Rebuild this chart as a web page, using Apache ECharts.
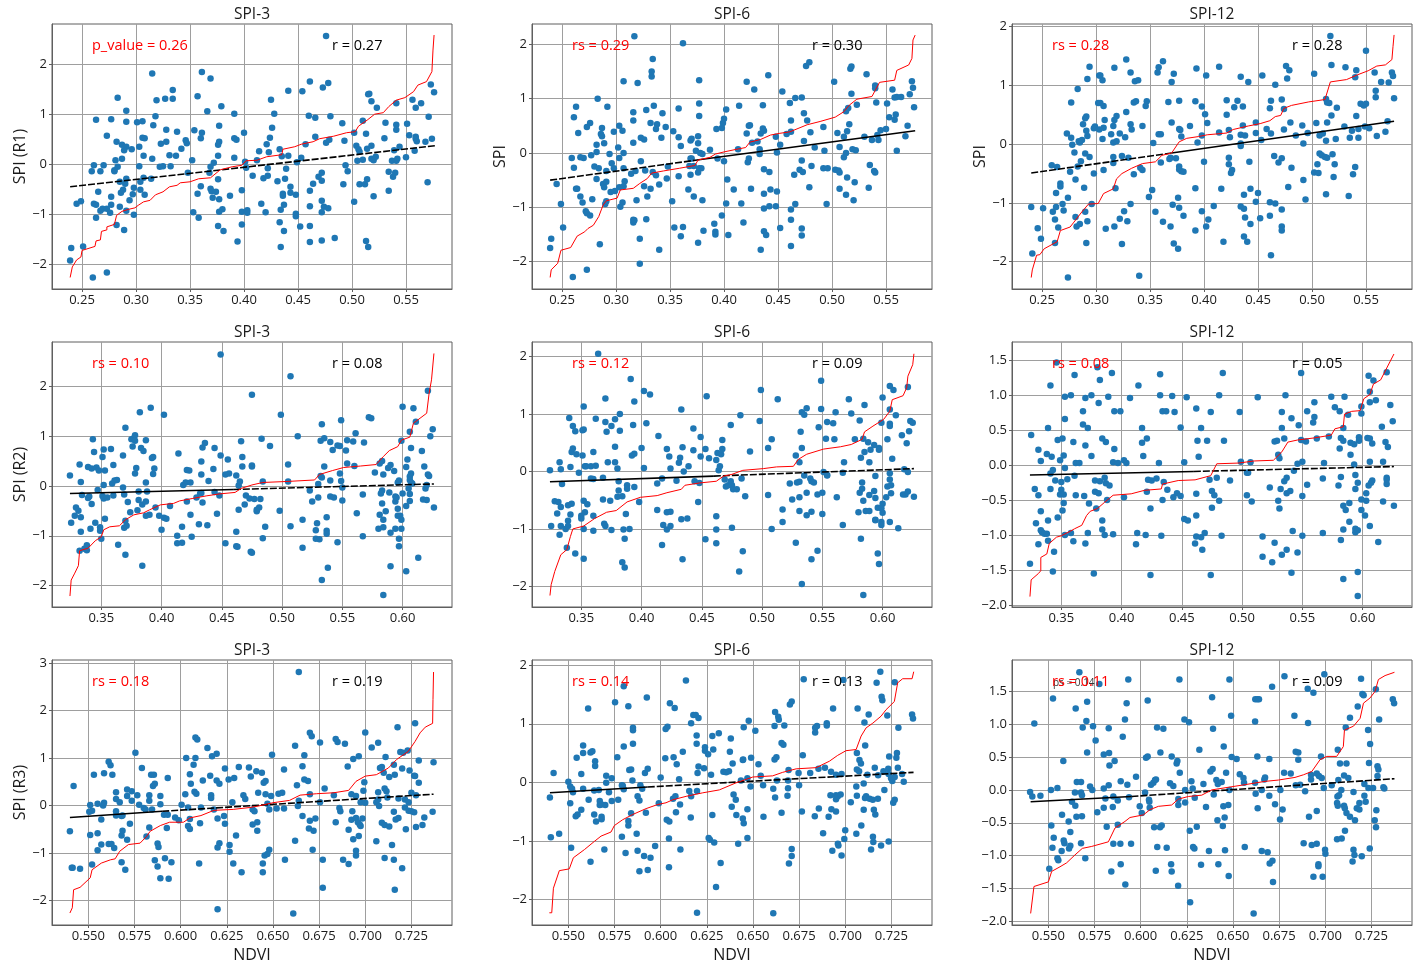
<!DOCTYPE html>
<html><head><meta charset="utf-8">
<script src="https://cdn.jsdelivr.net/npm/echarts@6/dist/echarts.min.js"></script>
<style>html,body{margin:0;padding:0;background:#fff}#c{width:1417px;height:965px}</style>
</head><body><div id="c"></div>
<script>
const titles=['SPI-3','SPI-6','SPI-12','SPI-3','SPI-6','SPI-12','SPI-3','SPI-6','SPI-12'];
const yNames=['SPI (R1)','SPI','SPI','SPI (R2)','','','SPI (R3)','',''];
const redNotes=['p_value = 0.26','rs = 0.29','rs = 0.28','rs = 0.10','rs = 0.12','rs = 0.08','rs = 0.18','rs = 0.14','rs = 0.11'];
const blackNotes=['r = 0.27','r = 0.30','r = 0.28','r = 0.08','r = 0.09','r = 0.05','r = 0.19','r = 0.13','r = 0.09'];
const xTicksR1=[.25,.30,.35,.40,.45,.50,.55];
const xTicksR2=[.35,.40,.45,.50,.55,.60];
const xTicksR3=[.55,.575,.6,.625,.65,.675,.7,.725];
const yTicksInt=[-2,-1,0,1,2];
const yTicksInt3=[-2,-1,0,1,2,3];
const yTicksHalf=[-2,-1.5,-1,-.5,0,.5,1,1.5];
const xExtents=[[.2222,.5926],[.3091,.6410],[.5303,.7470]];
const yExtents=[[-2.49,2.80],[-2.503,2.374],[-2.465,2.046],[-2.43,2.89],[-2.36,2.255],[-2.029,1.762],[-2.512,3.063],[-2.439,2.09],[-2.056,1.977]];

const pts1=[[.239,-1.92],[.24,-1.67],[.251,-1.64],[.245,-.79],[.249,-.74],[.259,-.14],[.261,-.02],[.267,-.14],[.27,-.02],[.263,.89],[.277,.9],[.273,.57],[.283,1.33],[.291,1.07],[.291,.85],[.282,.45],[.287,.39],[.291,.35],[.289,.28],[.296,.3],[.287,.11],[.281,.08],[.283,-.05],[.28,-.12],[.28,-.14],[.285,-.35],[.291,-.29],[.29,-.39],[.288,-.51],[.286,-.57],[.265,-.55],[.277,-.65],[.261,-.79],[.263,-.81],[.277,-.81],[.285,-.85],[.267,-.93],[.269,-.89],[.273,-.89],[.276,-.97],[.263,-1.07],[.282,-1.21],[.289,-1.31],[.26,-2.26],[.273,-2.16],[.291,-.93],[.298,-1.01],[.294,-.72],[.297,-.6],[.298,-.47],[.304,-.51],[.304,-.35],[.307,-.27],[.303,-.04],[.303,.35],[.301,.84],[.306,.86],[.306,.53],[.308,.52],[.307,.17],[.308,-.61],[.314,-.29],[.315,.11],[.316,.78],[.318,.96],[.315,1.81],[.319,1.28],[.327,1.31],[.334,1.31],[.334,1.48],[.328,.69],[.338,.65],[.328,.45],[.323,.41],[.322,-.05],[.325,-.04],[.332,-.04],[.331,.18],[.337,.17],[.342,.31],[.346,.48],[.347,.42],[.348,-.17],[.352,.08],[.354,.68],[.361,.63],[.36,.52],[.357,1.36],[.361,1.84],[.369,1.71],[.366,1.06],[.379,1.16],[.377,.77],[.377,.45],[.376,.39],[.376,.17],[.372,.03],[.369,-.05],[.368,-.17],[.376,-.3],[.36,-.44],[.357,-.59],[.353,-.96],[.358,-1.07],[.369,-.49],[.37,-.54],[.374,-.55],[.371,-.67],[.377,-.7],[.387,-.63],[.38,-.9],[.377,-.95],[.376,-1.23],[.381,-1.33],[.394,-1.54],[.398,-1.2],[.398,-.95],[.403,-.92],[.403,-.97],[.398,-.52],[.402,-.07],[.401,.05],[.4,.63],[.391,1.01],[.391,.52],[.393,.49],[.391,.13],[.408,-.23],[.412,.08],[.414,.26],[.416,-.79],[.42,-.96],[.418,-.28],[.422,-.23],[.422,-.08],[.423,.24],[.421,.4],[.424,.53],[.426,.73],[.428,1.01],[.425,1.29],[.441,1.47],[.454,1.46],[.461,1.65],[.473,1.53],[.478,1.62],[.476,2.56],[.46,.97],[.466,.93],[.48,.96],[.466,.55],[.457,.4],[.476,.43],[.479,.49],[.491,.82],[.493,.47],[.433,.3],[.435,.16],[.441,.17],[.453,.13],[.449,.04],[.439,-.09],[.438,-.29],[.431,-.34],[.443,-.45],[.436,-.59],[.436,-.63],[.443,-.57],[.448,-.61],[.437,-.81],[.434,-.91],[.448,-.99],[.448,-1.04],[.433,-1.16],[.437,-1.33],[.434,-1.65],[.452,-1.24],[.461,-1.23],[.461,-1.55],[.472,-1.52],[.484,-1.47],[.461,-.53],[.461,-.84],[.464,-.39],[.469,-.25],[.472,-.17],[.472,-.33],[.472,-.73],[.474,-.85],[.478,-.88],[.472,-.96],[.494,-.02],[.496,-.14],[.492,-.4],[.502,-.75],[.513,-1.53],[.515,-1.65],[.507,-.4],[.512,-.4],[.514,-.3],[.52,-.64],[.534,-.53],[.534,-.15],[.54,-.17],[.538,-.25],[.57,-.36],[.505,.07],[.51,.09],[.502,.63],[.504,.37],[.506,.3],[.507,.25],[.51,.87],[.513,.61],[.514,.31],[.518,.37],[.515,1.4],[.516,1.41],[.518,1.26],[.523,1.13],[.518,.11],[.52,.08],[.522,.15],[.531,.83],[.53,.52],[.541,.79],[.541,.69],[.541,1.22],[.539,.28],[.537,.07],[.541,.07],[.542,.11],[.544,.35],[.55,.14],[.551,.81],[.556,1.29],[.559,1.13],[.564,1.22],[.553,.58],[.559,.55],[.559,.51],[.56,.46],[.558,.27],[.568,.45],[.571,.95],[.573,1.59],[.576,1.44],[.574,.51]];
const red1=[[.239,-2.26],[.241,-2.05],[.245,-1.91],[.249,-1.85],[.25,-1.72],[.262,-1.64],[.263,-1.53],[.267,-1.51],[.268,-1.34],[.273,-1.31],[.273,-1.25],[.28,-1.2],[.282,-1.02],[.287,-.94],[.293,-.9],[.299,-.87],[.302,-.82],[.307,-.75],[.313,-.72],[.318,-.61],[.325,-.55],[.331,-.45],[.338,-.42],[.341,-.37],[.35,-.35],[.358,-.29],[.369,-.27],[.378,-.11],[.389,-.05],[.398,-.02],[.402,.07],[.412,.08],[.421,.15],[.435,.19],[.436,.3],[.447,.35],[.453,.4],[.464,.45],[.47,.51],[.483,.56],[.495,.63],[.503,.65],[.506,.76],[.514,.88],[.521,1],[.529,1.03],[.534,1.15],[.541,1.28],[.549,1.33],[.557,1.45],[.561,1.58],[.569,1.65],[.574,1.85],[.575,2.28],[.576,2.58]];
const dash1=[[.239,-.45],[.577,.37]];
const solid1=[];

const pts2=[[.239,-1.75],[.24,-1.58],[.251,-1.37],[.249,-.94],[.245,-.57],[.259,-.09],[.261,-.27],[.261,.66],[.263,.85],[.265,.37],[.263,-.66],[.264,-.66],[.267,-.08],[.27,-.09],[.267,-.8],[.269,-.91],[.272,-1.07],[.273,-1.11],[.276,-1.15],[.273,.48],[.276,.55],[.273,-2.15],[.26,-2.28],[.282,.15],[.283,1],[.287,.46],[.286,.35],[.287,.31],[.289,.18],[.282,.02],[.277,-.04],[.28,-.25],[.284,-.28],[.282,-.48],[.278,-.85],[.285,-1.68],[.288,-.57],[.289,-.63],[.291,-.53],[.291,-.33],[.292,.85],[.291,-.89],[.29,-.94],[.294,-.02],[.296,-.19],[.298,-.28],[.295,-.72],[.299,-.7],[.298,.39],[.303,.5],[.306,.41],[.302,.1],[.303,-.09],[.307,0],[.307,-.28],[.308,-.52],[.303,-.63],[.307,-.61],[.306,-.91],[.304,-.99],[.307,1.32],[.32,1.29],[.317,2.15],[.316,.75],[.316,.6],[.316,.19],[.314,-.38],[.318,-.33],[.319,-.87],[.316,-1.23],[.316,-1.28],[.317,-1.24],[.322,-1.58],[.322,-2.04],[.328,-1.22],[.323,-.15],[.323,.28],[.326,.25],[.328,.79],[.333,1.41],[.333,1.5],[.334,1.73],[.335,.87],[.332,.55],[.338,.53],[.337,.44],[.342,.28],[.343,.73],[.346,.48],[.353,.4],[.358,.82],[.362,2.02],[.358,.29],[.36,.13],[.348,-.25],[.347,-.47],[.34,-.58],[.337,-.41],[.334,-.35],[.327,-.32],[.326,-.61],[.332,-.66],[.329,-.8],[.34,-1.78],[.352,-.89],[.354,-1.37],[.36,-1.53],[.362,-1.36],[.358,-.43],[.367,-.67],[.369,-.4],[.369,.23],[.37,.26],[.376,.31],[.376,.18],[.377,.68],[.377,.91],[.377,1.34],[.374,.04],[.378,0],[.38,-.02],[.369,-.1],[.37,-.1],[.372,-.24],[.368,-.24],[.377,-.28],[.379,-.28],[.376,-.36],[.372,-.8],[.38,-.87],[.376,-1.65],[.381,-1.43],[.391,-1.3],[.392,-1.45],[.392,-1.5],[.404,-1.51],[.398,-1.15],[.402,-.93],[.403,-.49],[.4,-.15],[.387,.06],[.394,-.1],[.393,.44],[.398,.46],[.399,.55],[.4,.63],[.402,.8],[.414,.87],[.421,1.31],[.428,1.17],[.441,1.43],[.454,1.13],[.436,.88],[.461,.92],[.466,1.01],[.472,1.02],[.476,1.6],[.479,1.67],[.474,.73],[.477,.6],[.462,.6],[.458,.35],[.462,.39],[.48,.38],[.448,.3],[.474,.22],[.484,.1],[.437,.41],[.436,.45],[.434,.36],[.423,.5],[.424,.51],[.421,.36],[.426,.19],[.431,.21],[.413,.07],[.433,.07],[.433,-.02],[.452,.15],[.449,.01],[.423,-.1],[.422,-.17],[.437,-.3],[.442,-.35],[.409,-.67],[.425,-.66],[.443,-.67],[.437,-.75],[.449,-.71],[.416,-.93],[.442,-.98],[.448,-.98],[.437,-1.02],[.418,-1.28],[.437,-1.44],[.439,-1.51],[.434,-1.78],[.452,-1.38],[.462,-1.23],[.462,-1.04],[.466,-.94],[.462,-1.71],[.472,-1.39],[.472,-1.52],[.472,-.14],[.47,-.31],[.473,-.35],[.465,-.4],[.479,-.63],[.481,-.24],[.492,.48],[.493,.04],[.492,-.28],[.496,-.28],[.495,-.94],[.502,1.31],[.505,.37],[.507,.11],[.503,-.31],[.506,-.32],[.507,-.36],[.507,-.66],[.513,-.77],[.52,-.87],[.514,-.45],[.521,-.54],[.534,-.64],[.535,-.22],[.539,-.33],[.54,-.36],[.511,-.08],[.513,0],[.511,.3],[.514,.4],[.516,.53],[.513,.77],[.515,.83],[.518,1.09],[.517,1.55],[.518,1.59],[.523,.89],[.519,.07],[.522,.05],[.532,1.45],[.53,.3],[.537,.24],[.54,1.24],[.54,1.19],[.541,.93],[.545,.42],[.543,.24],[.542,.33],[.55,.44],[.551,.91],[.553,.66],[.556,1.17],[.558,1.02],[.56,1.03],[.564,1.03],[.558,.61],[.559,.71],[.56,.04],[.568,.31],[.57,.5],[.572,1.08],[.574,1.32],[.575,1.2],[.576,.84]];
const red2=[[.239,-2.29],[.24,-2.15],[.246,-2.03],[.249,-1.79],[.258,-1.74],[.264,-1.53],[.271,-1.45],[.274,-1.39],[.279,-1.33],[.284,-1.17],[.288,-.96],[.291,-.88],[.301,-.83],[.304,-.68],[.316,-.65],[.322,-.56],[.329,-.47],[.333,-.37],[.344,-.33],[.359,-.28],[.373,-.23],[.376,-.13],[.387,-.08],[.392,-.02],[.4,.02],[.412,.07],[.42,.1],[.424,.2],[.434,.25],[.443,.33],[.451,.36],[.461,.39],[.477,.52],[.489,.58],[.503,.66],[.511,.76],[.516,.88],[.523,.99],[.537,1.04],[.544,1.3],[.558,1.34],[.56,1.52],[.571,1.62],[.574,1.74],[.575,2.08],[.577,2.17]];
const dash2=[[.239,-.5],[.375,-.13]];
const solid2=[[.375,-.13],[.577,.41]];

const pts3=[[.24,-1.07],[.241,-1.86],[.246,-1.43],[.249,-1.61],[.251,-1.09],[.26,-1.15],[.262,-1.28],[.263,-1.07],[.265,-1.42],[.262,-1.68],[.263,-.83],[.267,-.72],[.267,-.67],[.259,-.36],[.264,-.39],[.269,-1.02],[.27,-1.13],[.274,-2.27],[.274,-.91],[.276,-.47],[.281,-.6],[.273,.18],[.277,.11],[.277,.71],[.278,-.01],[.28,-.14],[.283,.94],[.284,.05],[.285,.03],[.287,.07],[.283,-.38],[.286,-.29],[.288,.34],[.29,.44],[.291,.47],[.291,.23],[.292,.14],[.29,-.16],[.294,-.22],[.289,-.74],[.281,-1.24],[.282,-1.4],[.285,-1.36],[.29,-1.15],[.292,-1.31],[.291,-1.68],[.294,1.32],[.292,1.11],[.303,1.17],[.304,1.17],[.306,1.09],[.317,1.3],[.302,.7],[.304,.7],[.307,.65],[.308,.41],[.298,.27],[.299,.3],[.303,.25],[.307,.28],[.306,.09],[.298,-.5],[.307,-.44],[.296,-1.02],[.309,-1.44],[.317,-1.4],[.322,-1.27],[.324,-1.7],[.326,-1.14],[.329,-1.31],[.316,.31],[.317,.41],[.319,.48],[.314,.17],[.322,.18],[.316,.03],[.319,.05],[.327,.12],[.316,-.22],[.316,-.32],[.324,-.2],[.33,-.23],[.318,-.75],[.335,-.51],[.328,.55],[.328,1.44],[.332,1.22],[.336,1.07],[.339,1.09],[.335,.71],[.337,.73],[.332,.34],[.333,.25],[.343,.31],[.347,.73],[.346,.65],[.341,-.4],[.343,-.44],[.332,-1.02],[.349,-.9],[.352,-.78],[.355,-1.15],[.362,-1.32],[.369,-1.4],[.372,-1.69],[.376,-1.78],[.371,-1.03],[.377,-1.08],[.376,-.91],[.381,-1.22],[.358,1.31],[.357,1.22],[.362,1.41],[.37,1.06],[.372,1.2],[.367,.72],[.377,.74],[.37,.37],[.358,.17],[.36,.17],[.353,.02],[.36,-.31],[.368,-.25],[.369,-.23],[.374,-.24],[.377,.26],[.378,.24],[.379,.13],[.377,-.38],[.377,-.43],[.379,-.46],[.381,-.47],[.387,.31],[.393,1.29],[.402,1.17],[.392,.73],[.398,.64],[.401,.51],[.403,.36],[.398,.15],[.394,.03],[.4,-.3],[.392,-.75],[.416,-.76],[.409,-1.05],[.398,-1.14],[.404,-1.28],[.402,-1.4],[.392,-1.47],[.418,-1.66],[.414,1.32],[.421,.75],[.431,.74],[.428,.63],[.436,.64],[.421,.5],[.423,.24],[.414,.2],[.436,.32],[.424,.12],[.434,.16],[.438,.15],[.434,.01],[.434,-.03],[.423,-.23],[.423,-.34],[.426,-.44],[.425,-.49],[.442,-.3],[.434,1.15],[.441,1.06],[.454,1.17],[.443,-.76],[.437,-.86],[.45,-.83],[.448,-.98],[.434,-1.06],[.437,-1.1],[.438,-1.25],[.443,-1.36],[.437,-1.57],[.44,-1.66],[.452,-1.26],[.461,-.99],[.466,-1.01],[.461,-1.22],[.472,-1.11],[.472,-1.4],[.472,-1.47],[.462,-1.89],[.448,.37],[.448,.19],[.453,.07],[.458,.26],[.462,.18],[.461,.61],[.462,.74],[.466,1.01],[.472,.76],[.474,.6],[.474,.25],[.48,.37],[.477,1.12],[.476,1.33],[.479,1.26],[.465,-.2],[.469,-.31],[.472,-.24],[.481,-.4],[.478,-.73],[.485,.15],[.491,.32],[.492,.01],[.496,.19],[.502,1.2],[.492,-.61],[.494,-.94],[.502,-.48],[.506,-.49],[.505,-.34],[.507,-.16],[.509,-.19],[.512,-.22],[.514,-.23],[.519,-.17],[.521,-.34],[.52,-.56],[.513,-.85],[.534,-.88],[.538,-.51],[.54,-.39],[.504,.36],[.507,.15],[.51,.18],[.513,.06],[.514,.37],[.518,.49],[.522,.09],[.523,.62],[.513,.77],[.514,.71],[.516,.7],[.518,1.35],[.517,1.84],[.531,1.31],[.53,.3],[.535,.11],[.537,.23],[.543,.26],[.543,.11],[.541,.48],[.545,.69],[.541,1.26],[.54,1.14],[.55,1.59],[.549,.3],[.553,.27],[.558,1.22],[.548,.66],[.55,.69],[.559,.91],[.559,.8],[.56,.14],[.564,1.06],[.568,.21],[.57,.39],[.571,1.05],[.574,1.22],[.575,1.16],[.576,.78],[.34,-2.24]];
const red3=[[.24,-2.27],[.241,-2.14],[.245,-1.89],[.248,-1.88],[.252,-1.78],[.264,-1.66],[.267,-1.47],[.276,-1.41],[.279,-1.34],[.287,-1.15],[.293,-1.02],[.302,-1.01],[.307,-.84],[.316,-.76],[.319,-.59],[.324,-.5],[.333,-.41],[.343,-.33],[.355,-.3],[.361,-.19],[.37,-.15],[.377,.04],[.384,.1],[.395,.13],[.403,.16],[.421,.19],[.427,.25],[.441,.31],[.452,.35],[.461,.4],[.466,.47],[.471,.49],[.474,.61],[.481,.66],[.497,.72],[.512,.76],[.517,1.06],[.532,1.1],[.542,1.18],[.552,1.25],[.56,1.33],[.568,1.35],[.574,1.44],[.575,1.66],[.576,1.86]];
const dash3=[[.24,-.49],[.37,-.15]];
const solid3=[[.37,-.15],[.576,.39]];

const pts4=[[.324,.21],[.325,-.74],[.332,.43],[.333,.08],[.329,-.43],[.331,-.5],[.328,-.6],[.333,-.63],[.333,-.92],[.332,-1.3],[.334,-.18],[.343,.94],[.344,.68],[.339,.38],[.342,.35],[.346,.37],[.348,.31],[.34,-.21],[.339,-.24],[.342,-.36],[.347,-.08],[.345,-.74],[.341,-.86],[.349,-.83],[.336,-1.26],[.338,-1.19],[.338,-1.29],[.35,-1.06],[.349,-.9],[.352,.73],[.351,.58],[.353,.31],[.352,.02],[.351,-.2],[.352,-.25],[.355,-.23],[.353,-.66],[.358,.74],[.36,.42],[.36,-.19],[.359,.05],[.361,.11],[.363,.12],[.364,-1.18],[.37,1.17],[.368,.61],[.368,-.03],[.369,-.17],[.372,-.32],[.374,-.53],[.37,-.7],[.369,-.84],[.371,-.8],[.37,-1.38],[.375,.94],[.376,.79],[.377,.96],[.378,1.02],[.378,.91],[.379,.36],[.378,.25],[.381,-.11],[.381,-.28],[.38,-.49],[.384,-.37],[.382,1.48],[.383,.76],[.385,.7],[.387,.92],[.387,.07],[.388,-.11],[.387,-.31],[.387,-.6],[.39,-.58],[.384,-1.6],[.391,1.57],[.392,.56],[.393,.58],[.394,.35],[.393,.24],[.395,-.43],[.398,-.6],[.402,-.64],[.404,-.66],[.4,-.88],[.402,1.43],[.407,-.4],[.413,-1],[.413,-1.15],[.417,-1.14],[.414,.65],[.417,-.82],[.418,.02],[.42,.07],[.424,.07],[.421,.32],[.423,.31],[.421,-.31],[.424,-.58],[.425,-1.02],[.429,-.23],[.432,-.15],[.433,-.14],[.434,-.33],[.433,.23],[.433,.49],[.434,.77],[.436,.86],[.431,-.77],[.438,-.79],[.439,.1],[.443,.34],[.444,.76],[.444,-.12],[.446,-.56],[.448,-.19],[.449,.61],[.449,2.64],[.453,.23],[.456,.25],[.455,.53],[.453,-1.15],[.462,-.92],[.462,.21],[.462,-1.21],[.463,-1.22],[.464,-.48],[.464,.01],[.465,.09],[.466,.9],[.467,.58],[.467,.39],[.469,-.37],[.47,-.19],[.473,-.25],[.475,.39],[.475,.41],[.475,1.83],[.474,-1.32],[.475,-1.34],[.477,-.26],[.482,-.26],[.481,-.43],[.479,-.51],[.479,-.48],[.483,.95],[.484,.09],[.484,-1.05],[.486,-.82],[.49,.8],[.498,-.5],[.499,1.43],[.505,.43],[.505,.09],[.507,2.2],[.507,-.81],[.513,1],[.517,-.68],[.517,-1.24],[.523,-.09],[.525,-.31],[.528,-.89],[.528,-1.06],[.531,-1.07],[.529,-.75],[.53,-.23],[.53,.04],[.532,.2],[.533,1.24],[.532,.91],[.535,.96],[.535,.39],[.533,.17],[.537,-.63],[.537,-.9],[.537,-.96],[.538,-1.64],[.533,-1.89],[.54,.88],[.542,.72],[.54,.11],[.54,-.21],[.543,-.23],[.546,.81],[.548,.8],[.549,1.32],[.548,.25],[.549,.1],[.55,-.03],[.55,-.29],[.546,-1.13],[.553,.71],[.554,.92],[.554,.45],[.561,1.06],[.559,.89],[.56,.4],[.562,-.55],[.568,.87],[.567,-.17],[.567,-1.01],[.572,1.38],[.574,1.36],[.577,.27],[.581,.45],[.583,.5],[.58,-.86],[.581,-.58],[.584,-.68],[.583,-.09],[.582,-.15],[.583,-.35],[.586,-.51],[.584,-.83],[.584,.23],[.584,-2.19],[.588,.36],[.59,.42],[.589,-.13],[.59,-.94],[.59,-1.61],[.593,.3],[.594,-.21],[.594,-.31],[.595,-.23],[.594,-.86],[.597,.11],[.596,.07],[.596,-.46],[.596,-.6],[.598,-.6],[.597,-1.06],[.597,-1.21],[.599,-.86],[.6,1.59],[.599,.91],[.599,-.68],[.6,-.15],[.603,.38],[.604,.53],[.603,-.4],[.603,-1.71],[.606,1.09],[.607,.76],[.605,-.05],[.607,.25],[.606,.19],[.606,.12],[.607,.07],[.608,.05],[.606,-.16],[.606,-.3],[.609,1.56],[.611,1.29],[.613,-1.44],[.616,.7],[.618,.39],[.617,-.27],[.62,-.28],[.621,1.91],[.621,.23],[.622,.2],[.619,-.05],[.62,.02],[.623,1],[.625,1.14],[.626,-.43]];
const red4=[[.324,-2.21],[.325,-1.89],[.328,-1.75],[.331,-1.6],[.332,-1.3],[.339,-1.25],[.345,-1.1],[.35,-1.02],[.352,-.88],[.357,-.82],[.365,-.8],[.37,-.68],[.377,-.58],[.385,-.54],[.39,-.48],[.399,-.38],[.41,-.35],[.415,-.3],[.426,-.25],[.437,-.2],[.448,-.16],[.461,-.13],[.466,-.05],[.475,.02],[.484,.07],[.504,.09],[.527,.12],[.531,.23],[.542,.31],[.551,.37],[.565,.4],[.578,.43],[.584,.59],[.589,.71],[.596,.79],[.599,.92],[.606,.98],[.609,1.26],[.62,1.46],[.622,1.86],[.624,2.13],[.626,2.66]];
const dash4=[[.46,-.07],[.626,.04]];
const solid4=[[.324,-.15],[.46,-.07]];

const pts5=[[.324,.02],[.325,-.95],[.33,-.73],[.328,-.52],[.331,-.53],[.333,-.62],[.332,.16],[.333,.04],[.332,-1.1],[.334,-.22],[.333,-.95],[.337,-1],[.338,-1.33],[.339,-.59],[.342,-.56],[.34,.93],[.341,-.75],[.339,-.86],[.339,-.95],[.341,.08],[.342,.34],[.343,.4],[.346,.3],[.343,.79],[.345,.7],[.345,-1.43],[.348,-.02],[.35,-.77],[.35,-.82],[.351,.72],[.352,.73],[.352,1.13],[.351,.28],[.353,.09],[.354,.09],[.352,-.51],[.355,-.57],[.353,-.71],[.352,-1],[.352,-1.52],[.358,.09],[.358,-.12],[.36,-.13],[.36,.34],[.362,.92],[.362,.1],[.36,-.77],[.36,-1.03],[.364,2.05],[.37,1.27],[.37,.86],[.369,-.91],[.37,-.95],[.371,.69],[.372,.16],[.368,-.11],[.368,-.49],[.374,-.51],[.375,.79],[.375,-1.02],[.378,.91],[.378,.16],[.378,.43],[.38,.05],[.382,1],[.382,.71],[.381,-.17],[.381,-.33],[.38,-.44],[.384,-.43],[.385,-1.01],[.384,-1.58],[.386,-1.67],[.386,-1.17],[.387,-.74],[.388,-.24],[.388,-.3],[.39,-1],[.391,1.61],[.393,.81],[.392,.28],[.394,.31],[.394,-.27],[.394,1.22],[.398,-.53],[.4,.41],[.402,.06],[.402,1.4],[.404,.84],[.407,1.34],[.413,-.67],[.413,-.21],[.414,.62],[.417,-.12],[.417,-1.28],[.418,-.93],[.421,-1.01],[.421,.39],[.423,.26],[.421,-.71],[.424,-.7],[.424,-.95],[.424,.05],[.429,-.16],[.431,.15],[.432,.24],[.433,1.08],[.433,-.83],[.438,-.82],[.434,.42],[.434,-1.53],[.435,0],[.439,.09],[.443,.37],[.443,.75],[.444,-.17],[.447,-.53],[.448,-.2],[.449,.6],[.449,.26],[.453,.39],[.453,-1.18],[.454,1.31],[.456,.23],[.462,-1.01],[.462,-1.25],[.462,-.78],[.462,.2],[.463,.32],[.464,.02],[.465,.09],[.466,.3],[.467,.39],[.467,.55],[.469,-.14],[.47,-.26],[.472,-.24],[.474,-.17],[.475,-.24],[.476,-.31],[.479,-.31],[.475,-.98],[.474,.81],[.482,.98],[.483,-.12],[.486,-.43],[.484,-1.39],[.481,-1.74],[.49,.35],[.498,.88],[.499,1.42],[.505,-.41],[.505,.41],[.508,.56],[.508,-1],[.513,1.26],[.517,-.66],[.517,-.88],[.523,-.21],[.525,-.49],[.528,-1.24],[.528,.28],[.529,-.19],[.531,-.18],[.531,-.45],[.531,-.69],[.531,.16],[.532,.69],[.533,1.03],[.535,.99],[.537,1.1],[.533,.41],[.533,-1.96],[.535,-.07],[.537,-.37],[.537,-.76],[.54,-.12],[.541,-.17],[.543,-.19],[.541,-.7],[.541,-1.53],[.546,-.4],[.546,-1.38],[.547,.77],[.549,1.09],[.549,1.58],[.55,-.37],[.55,-.74],[.551,-.01],[.554,-.06],[.554,-.07],[.554,.86],[.553,.57],[.559,.84],[.56,.56],[.561,1.03],[.562,-.45],[.567,-.02],[.568,.16],[.567,-.93],[.572,1.26],[.574,1.01],[.577,.56],[.58,-.71],[.581,.89],[.581,-.37],[.583,-.3],[.582,.24],[.583,-.19],[.582,-1.17],[.584,.57],[.585,.34],[.584,-2.15],[.585,1.16],[.584,-.51],[.586,-.69],[.588,.51],[.589,.16],[.589,-.69],[.589,-.41],[.59,.38],[.593,.46],[.593,-.34],[.594,-.46],[.594,-.08],[.594,-.84],[.594,-.85],[.596,-1.43],[.597,.41],[.597,.38],[.596,-.63],[.597,-1.61],[.599,-.88],[.599,-.93],[.6,-.56],[.599,-.64],[.6,-.72],[.6,1.29],[.599,.85],[.604,-.26],[.604,.56],[.603,-.45],[.606,1.49],[.606,1.08],[.606,.83],[.606,.79],[.606,-.03],[.606,-.14],[.607,-.24],[.607,-.38],[.606,-.88],[.609,1.42],[.608,.22],[.611,.98],[.613,-.99],[.616,.63],[.617,-.4],[.618,.04],[.62,.49],[.621,1.47],[.621,-.01],[.619,-.4],[.621,-.35],[.622,.7],[.623,.88],[.625,.85],[.626,-.44]];
const red5=[[.324,-2.16],[.325,-1.97],[.328,-1.74],[.333,-1.45],[.338,-1.36],[.341,-1.13],[.343,-1],[.352,-.95],[.361,-.82],[.371,-.71],[.379,-.68],[.388,-.53],[.399,-.45],[.413,-.42],[.421,-.37],[.433,-.31],[.436,-.24],[.448,-.2],[.462,-.17],[.468,-.08],[.475,-.05],[.484,.02],[.501,.05],[.512,.08],[.526,.09],[.53,.21],[.537,.3],[.551,.39],[.565,.43],[.574,.47],[.583,.56],[.585,.69],[.592,.79],[.601,.91],[.606,1.05],[.608,1.25],[.617,1.32],[.62,1.46],[.621,1.66],[.625,1.86],[.626,2.05]];
const dash5=[[.46,-.08],[.626,.05]];
const solid5=[[.324,-.18],[.46,-.08]];

const pts6=[[.325,.43],[.324,-1.41],[.331,.22],[.333,.06],[.328,-.34],[.331,-.43],[.333,-.66],[.329,-.83],[.331,-1.13],[.333,-.93],[.334,-.96],[.336,-.98],[.338,-.98],[.339,-1.08],[.339,-.79],[.339,.53],[.338,.16],[.342,.12],[.341,1.14],[.341,-.12],[.343,-.07],[.345,-.22],[.341,-.34],[.344,-1.24],[.343,-1.52],[.346,1.47],[.347,.36],[.351,.38],[.352,.14],[.349,.07],[.35,-.24],[.35,-.35],[.349,-.42],[.352,-.42],[.352,-.54],[.351,-.65],[.347,-.75],[.353,-.04],[.355,-.2],[.353,.66],[.353,.98],[.358,1],[.361,1.29],[.36,.33],[.358,-.97],[.353,-1],[.36,-1.09],[.361,-.15],[.362,.03],[.365,.03],[.362,-.43],[.368,.77],[.37,.96],[.375,1],[.368,.58],[.372,.53],[.37,.28],[.375,.13],[.369,-.44],[.373,-.55],[.372,-.97],[.37,-1.12],[.377,-1.55],[.381,.89],[.38,1.4],[.382,1.22],[.378,-.22],[.382,-.23],[.378,-.38],[.381,-.4],[.379,-.62],[.384,-.79],[.384,-.92],[.386,-1],[.384,.38],[.387,.33],[.386,-.18],[.387,-.26],[.39,-.29],[.388,-.5],[.389,.98],[.392,1.32],[.394,.23],[.393,.04],[.394,.77],[.393,-.99],[.397,.03],[.399,.77],[.402,.07],[.404,.03],[.402,-.46],[.407,.96],[.414,1.14],[.417,.53],[.418,.13],[.417,.32],[.421,.38],[.413,-.97],[.412,-1.13],[.42,-1],[.421,-.38],[.422,-.21],[.425,-.22],[.424,-.62],[.424,-1.57],[.429,-.19],[.431,.03],[.432,1.3],[.432,1],[.434,.77],[.437,.77],[.434,-.5],[.433,-1.01],[.435,-.24],[.438,-.35],[.442,.99],[.444,.76],[.443,-.46],[.446,-.4],[.449,-.44],[.449,.54],[.452,.04],[.454,.97],[.452,-.77],[.455,-.79],[.462,.81],[.462,-.41],[.462,-.72],[.462,-1.02],[.461,-1.12],[.463,.35],[.464,.12],[.466,.53],[.466,-1.03],[.467,-1.21],[.469,-.97],[.471,.35],[.474,.76],[.473,-.21],[.475,-.37],[.477,-.43],[.475,-.61],[.474,-1.57],[.479,-.18],[.481,-.51],[.481,1],[.483,-1.01],[.484,1.32],[.485,.35],[.49,-.22],[.498,.76],[.499,.05],[.504,-.11],[.505,-.11],[.504,-.43],[.508,-.52],[.507,.04],[.513,.97],[.517,-1.02],[.517,-1.31],[.523,-.32],[.525,-1.39],[.527,-1.11],[.527,.34],[.529,.35],[.53,.15],[.531,.1],[.532,-.34],[.53,-.51],[.531,-.62],[.533,.76],[.533,.53],[.535,.38],[.533,-1.28],[.537,-1.21],[.536,1],[.535,-.23],[.537,-.18],[.537,-.4],[.54,-.37],[.541,.67],[.541,-1.54],[.542,-.94],[.543,-.08],[.546,.02],[.547,.57],[.546,-1.25],[.549,1.32],[.549,.36],[.553,.34],[.55,.05],[.55,-.44],[.55,-1.01],[.554,-.28],[.554,.77],[.56,.9],[.56,.69],[.559,.61],[.562,.38],[.568,.03],[.567,-.19],[.567,-.97],[.572,.41],[.574,.98],[.577,.83],[.581,.77],[.58,-.29],[.582,-.17],[.582,-1.07],[.581,.24],[.582,.39],[.584,.35],[.584,.53],[.585,.98],[.584,-.58],[.586,-.64],[.584,-.92],[.584,-1.63],[.588,.72],[.59,.32],[.59,.15],[.589,-.54],[.589,-.81],[.593,.3],[.593,.01],[.594,-.14],[.594,-.34],[.594,-.91],[.594,-.96],[.596,-1.53],[.597,.4],[.597,.35],[.596,-.25],[.596,-.93],[.596,-1.87],[.599,-.49],[.599,-.64],[.599,.84],[.599,.74],[.603,-.51],[.603,-.4],[.602,-.72],[.604,.39],[.606,.38],[.605,1.28],[.606,1.05],[.606,.9],[.606,.05],[.605,-.29],[.607,-.25],[.608,-.22],[.606,-.87],[.608,.31],[.609,1.21],[.611,.93],[.613,-1.1],[.616,.55],[.617,.05],[.617,-.52],[.619,.33],[.62,-.27],[.62,-.18],[.62,-.21],[.621,.26],[.62,1.33],[.623,.86],[.625,.63],[.626,-.58]];
const red6=[[.324,-1.88],[.325,-1.64],[.331,-1.55],[.333,-1.51],[.333,-1.32],[.338,-1.27],[.34,-1.12],[.346,-1.03],[.35,-1.01],[.358,-.94],[.361,-.91],[.367,-.86],[.371,-.72],[.374,-.66],[.38,-.62],[.386,-.53],[.393,-.43],[.408,-.41],[.419,-.36],[.433,-.34],[.434,-.27],[.447,-.22],[.461,-.21],[.474,-.15],[.479,.02],[.497,.03],[.51,.06],[.526,.07],[.533,.19],[.538,.33],[.546,.36],[.56,.39],[.574,.43],[.577,.52],[.584,.55],[.585,.73],[.591,.77],[.598,.78],[.601,.95],[.606,1.01],[.609,1.16],[.615,1.22],[.626,1.59]];
const dash6=[[.46,-.09],[.626,-.02]];
const solid6=[[.324,-.14],[.46,-.09]];

const pts7=[[.54,-.54],[.542,.41],[.541,-1.31],[.5415,-1.31],[.5455,-1.33],[.551,-.62],[.551,.01],[.5505,-.13],[.552,-.11],[.553,.65],[.552,-1.24],[.555,-.58],[.555,-.94],[.555,.04],[.557,-.29],[.557,-.82],[.558,0],[.5585,.06],[.5585,.68],[.561,.92],[.562,.85],[.563,.65],[.561,-.81],[.5625,-.81],[.564,-.89],[.565,.28],[.565,.14],[.567,.07],[.565,-.12],[.565,-.21],[.568,-.22],[.5685,-.21],[.568,-.63],[.5685,-.53],[.568,-1.19],[.57,-1.35],[.571,-.72],[.571,.34],[.571,.2],[.5735,.3],[.5735,.1],[.5725,-.38],[.5755,1.11],[.5765,.22],[.5775,.02],[.579,.79],[.58,-.05],[.581,-.08],[.5815,-.65],[.583,.22],[.583,.1],[.583,-.46],[.584,.65],[.5855,.65],[.585,.41],[.586,.46],[.5845,-.08],[.5875,-.8],[.588,-.87],[.586,-1.15],[.5875,-1.28],[.589,-1.53],[.589,.03],[.589,.2],[.593,.58],[.591,-.19],[.593,-.19],[.5925,-.47],[.5915,-1.11],[.595,-1.19],[.5935,-1.54],[.597,-.25],[.599,-.31],[.6005,.02],[.6025,.24],[.603,1],[.604,-.04],[.604,-.43],[.605,-.49],[.605,-.28],[.605,.66],[.6055,.46],[.607,.86],[.6075,.29],[.6085,.25],[.608,1],[.608,1.43],[.609,1.39],[.611,-.04],[.6105,-.37],[.61,-1.22],[.612,.53],[.6145,1.21],[.616,.63],[.617,1.04],[.6195,1.09],[.6165,.22],[.6165,.16],[.618,-.08],[.6195,.53],[.621,.46],[.62,-.27],[.621,-.79],[.62,-.88],[.62,-2.18],[.6235,-.22],[.624,-.38],[.624,.78],[.626,.55],[.629,.58],[.628,.07],[.6265,-.83],[.6265,-.97],[.6285,-1.22],[.63,-.63],[.6315,.81],[.633,-1.4],[.634,.22],[.635,.14],[.637,.8],[.638,.61],[.639,-.08],[.64,-.12],[.639,-.4],[.6415,-.35],[.6415,-.53],[.641,.72],[.644,.69],[.642,.27],[.645,.48],[.646,.52],[.646,.24],[.6445,-1.22],[.6445,-1.4],[.6455,-1.05],[.647,-1.02],[.648,-.93],[.647,.04],[.648,-.08],[.649,.2],[.6495,1.07],[.652,-.06],[.653,.25],[.655,.27],[.656,-.06],[.656,.76],[.6565,-1.14],[.662,-.74],[.662,1.26],[.663,.43],[.664,2.81],[.661,-2.27],[.6635,-.01],[.664,.1],[.666,-.22],[.666,.83],[.667,1.06],[.667,.55],[.669,.52],[.67,1.53],[.671,1.46],[.67,.24],[.67,-.32],[.6695,-.48],[.672,-.53],[.673,-.27],[.6715,-.93],[.6755,1.33],[.6755,.07],[.678,.36],[.677,-1.73],[.677,-1.14],[.683,.22],[.684,1.4],[.685,1.34],[.684,-.35],[.686,-.05],[.6865,-.12],[.689,1.3],[.688,-1.14],[.6905,.82],[.691,-.51],[.691,-1.23],[.6925,-.3],[.693,-.12],[.6925,.24],[.6935,.98],[.6935,-.71],[.695,.2],[.695,-.26],[.696,-.35],[.695,-.95],[.695,-1.05],[.6965,1.04],[.697,-.4],[.6975,-.43],[.6965,-.64],[.6985,-.27],[.6975,.07],[.7,.06],[.7,1.54],[.699,.31],[.6995,.49],[.706,.07],[.706,-.75],[.7035,1.22],[.707,1.32],[.707,.28],[.707,.13],[.7075,-.01],[.708,.79],[.709,.81],[.7105,.36],[.7115,.3],[.711,1.02],[.71,.69],[.709,-.36],[.7105,-.41],[.713,-.44],[.7105,-1.1],[.712,.17],[.713,.6],[.7155,.86],[.716,.65],[.7155,-.13],[.7145,-.83],[.7155,-1.14],[.7165,-.29],[.718,-.26],[.7175,1.65],[.718,.15],[.716,-1.77],[.719,1.13],[.7205,1.11],[.72,.78],[.72,-1.32],[.7215,.13],[.7215,-.04],[.722,-.5],[.723,1.16],[.7235,.07],[.7235,-.11],[.724,.74],[.725,.27],[.725,-.12],[.727,1.73],[.7265,.63],[.727,.62],[.7265,-.14],[.7275,.22],[.7275,-.45],[.729,.95],[.729,.48],[.731,-.41],[.732,-.25],[.737,.91],[.7365,-.13]];
const red7=[[.54,-2.26],[.5413,-2.15],[.542,-1.77],[.5455,-1.72],[.551,-1.52],[.552,-1.35],[.557,-1.21],[.562,-1.14],[.5645,-1.12],[.567,-.96],[.5717,-.82],[.578,-.79],[.5815,-.65],[.5835,-.54],[.589,-.42],[.594,-.35],[.6015,-.35],[.605,-.26],[.611,-.21],[.618,-.1],[.6285,-.08],[.6375,-.04],[.642,-.01],[.65,.06],[.659,.11],[.6647,.22],[.6737,.25],[.683,.27],[.691,.32],[.695,.51],[.7,.62],[.706,.65],[.7125,.79],[.717,.97],[.7233,1.14],[.727,1.35],[.7297,1.53],[.7325,1.65],[.7365,1.73],[.7367,2.23],[.737,2.81]];
const dash7=[[.59,-.12],[.737,.24]];
const solid7=[[.54,-.25],[.59,-.12]];

const pts8=[[.54,-.26],[.5405,-.94],[.542,.16],[.545,-.88],[.55,.01],[.551,-.07],[.552,-.11],[.5525,-.17],[.551,-.36],[.5515,-1.12],[.5545,.42],[.557,.14],[.554,-.58],[.555,-.55],[.557,-.47],[.558,.63],[.558,.5],[.558,-.11],[.561,-.3],[.5607,1.26],[.562,.51],[.563,.53],[.5645,.36],[.5645,.28],[.564,-.14],[.5665,-.13],[.564,-.55],[.565,-.67],[.562,-1.36],[.567,-.32],[.567,-.39],[.568,-.38],[.57,-.39],[.568,-.63],[.568,-.59],[.5695,-1.15],[.5705,.11],[.5705,-.01],[.5735,.07],[.572,-.17],[.5735,-.32],[.5753,1.37],[.5765,.43],[.577,-.3],[.579,-.93],[.58,1.64],[.58,.61],[.5795,-.06],[.579,-.05],[.58,-.12],[.581,-1.21],[.5825,1.3],[.583,.21],[.584,.22],[.585,.66],[.585,.93],[.585,.89],[.5847,.03],[.5825,-.66],[.5825,-.74],[.584,-.53],[.5875,-.24],[.5885,-.31],[.587,-.88],[.5875,-1.17],[.5885,-1.52],[.589,-.05],[.59,-.11],[.591,-1.26],[.5915,.16],[.593,.23],[.5925,1.45],[.592,-.52],[.593,-1.5],[.5945,-1.29],[.597,-1.09],[.6,.08],[.599,-.36],[.6025,.41],[.6027,.91],[.6037,.95],[.605,1.35],[.6033,-.64],[.6047,-.67],[.6045,-.96],[.6045,-1.45],[.6067,-.28],[.608,-.24],[.6076,1.27],[.607,.43],[.6087,.31],[.6083,-.51],[.61,.05],[.6105,-.38],[.6107,-1.15],[.612,.52],[.6137,1.74],[.6165,1.01],[.6155,-.15],[.6165,-.24],[.6163,-.6],[.6177,1.15],[.619,1.15],[.6205,1.1],[.6195,.8],[.6195,.66],[.6205,.27],[.62,.16],[.6197,-.15],[.6197,-2.23],[.6235,.24],[.624,.6],[.624,.54],[.6257,.48],[.6273,.13],[.628,.79],[.6285,.56],[.628,-.56],[.626,-.95],[.6267,-.98],[.629,-1.03],[.6315,.84],[.6325,-1.38],[.63,-1.79],[.634,.18],[.6355,.17],[.637,.19],[.6375,.52],[.638,.75],[.639,.32],[.6385,-.42],[.6395,-.21],[.6407,-.3],[.641,-.56],[.642,-1.05],[.6435,.03],[.6445,.38],[.6447,.39],[.6445,-.62],[.645,-.7],[.645,.94],[.647,.07],[.6477,1.05],[.647,-.46],[.647,-.95],[.649,.42],[.6487,-.07],[.6513,.88],[.653,.31],[.6542,.11],[.6555,-.05],[.6557,-.59],[.661,-.11],[.661,-2.24],[.6617,.39],[.662,1.2],[.6617,.96],[.662,-.26],[.6627,.43],[.663,.03],[.6637,1.12],[.664,1.07],[.6655,-.52],[.6655,.67],[.6665,.64],[.667,.97],[.669,.03],[.669,-.1],[.6687,-.23],[.67,1.33],[.671,1.38],[.6693,.21],[.6695,-1.39],[.671,-1.26],[.671,-1.14],[.675,-.05],[.6747,.16],[.677,.46],[.6765,-.5],[.6775,1.76],[.681,.16],[.6837,.93],[.6837,.85],[.6847,.96],[.6835,-.58],[.6855,.23],[.6857,-.45],[.688,-.87],[.689,.25],[.69,1.01],[.69,.97],[.691,-.59],[.692,-.22],[.6925,-.46],[.693,-1.17],[.6934,1.26],[.6923,.18],[.695,.13],[.695,-.22],[.695,-.29],[.695,-.5],[.696,-1.05],[.6963,-1.08],[.696,-.24],[.6975,-.21],[.698,-1.25],[.698,.14],[.6995,-.97],[.7,-.82],[.699,1.75],[.703,-.34],[.706,-.88],[.706,-.07],[.7067,1.26],[.7063,.5],[.7063,.22],[.7075,.19],[.7077,.38],[.7085,.32],[.7063,-.23],[.7087,-.74],[.71,-.47],[.7107,-.27],[.71,-.02],[.7104,1.02],[.7108,.63],[.7113,-.24],[.712,.13],[.7127,1.16],[.7132,-.28],[.7149,-.3],[.714,-1.15],[.715,-.93],[.7152,-1.02],[.7155,-.47],[.7163,-.55],[.716,.25],[.717,1.7],[.7177,-.28],[.7178,.12],[.719,1.89],[.7194,-1.08],[.7197,1.46],[.7201,1.4],[.7212,-.13],[.7207,.19],[.7228,1.14],[.7235,-1.01],[.7238,.44],[.7233,.23],[.7235,.14],[.7248,.07],[.7255,.02],[.7268,.09],[.726,-.35],[.7268,-.3],[.7268,1.71],[.728,.5],[.7277,.42],[.7288,.93],[.7285,.25],[.7308,.14],[.7317,.01],[.7362,1.16],[.7367,1.09]];
const red8=[[.5397,-2.23],[.541,-2.23],[.5419,-1.81],[.5451,-1.51],[.5505,-1.48],[.5527,-1.29],[.5587,-1.15],[.5641,-1.01],[.5677,-.92],[.5731,-.85],[.5749,-.74],[.5794,-.64],[.5849,-.55],[.5921,-.45],[.5984,-.38],[.6029,-.35],[.6065,-.3],[.6138,-.24],[.6228,-.18],[.6318,-.13],[.6408,-.01],[.6499,.09],[.6607,.11],[.6661,.17],[.6734,.23],[.6842,.25],[.6914,.36],[.6959,.46],[.7004,.54],[.7059,.56],[.7086,.79],[.7113,.93],[.7149,1.01],[.7194,1.13],[.7221,1.24],[.7266,1.38],[.7284,1.7],[.7311,1.77],[.7362,1.77],[.7371,1.89]];
const dash8=[[.593,-.08],[.737,.17]];
const solid8=[[.54,-.18],[.593,-.08]];

const pts9=[[.5401,-.03],[.5413,-.1],[.5424,1.01],[.5457,-.09],[.5514,0],[.5525,1.39],[.5549,.03],[.5516,-.54],[.5529,-.73],[.5522,-.88],[.5505,-1.2],[.5554,-1.07],[.5549,-1.04],[.5574,-.38],[.5581,.44],[.5583,-.77],[.5587,-.81],[.5572,-.93],[.561,-.48],[.5619,-.64],[.5619,-.85],[.5612,-.89],[.5628,-.18],[.5644,-.04],[.5648,1.24],[.5646,-.24],[.5652,-.41],[.5654,.12],[.5668,1.79],[.5677,.12],[.5677,-.04],[.5682,-.08],[.5682,-.4],[.5677,-.81],[.5686,.95],[.57,-1.04],[.5706,1.05],[.571,1.34],[.571,.57],[.5726,.05],[.5738,0],[.5742,.97],[.5756,.75],[.5765,-.34],[.5776,1.61],[.58,.54],[.58,.02],[.58,-.27],[.5809,-.13],[.5816,-.56],[.5827,.94],[.5829,.56],[.5827,.07],[.5831,.37],[.5841,-1.24],[.5849,-.26],[.5852,-.1],[.5852,-.82],[.5859,.44],[.5876,-.16],[.5876,-.53],[.5892,.13],[.589,-.82],[.5892,-1.13],[.5903,.81],[.5915,1.07],[.5917,-1.44],[.5924,1.32],[.5928,.08],[.5933,1.68],[.5937,-.11],[.5948,-.82],[.5975,.2],[.5995,-.25],[.6006,-.35],[.6024,-.04],[.6029,.49],[.6038,.51],[.6038,1.36],[.6045,-.15],[.6049,-.27],[.6047,-.18],[.6056,.08],[.6069,.11],[.6078,.15],[.6083,.16],[.6089,.95],[.6073,-.57],[.6105,-.57],[.6114,-.54],[.609,-.87],[.6082,-1.23],[.6107,.57],[.6123,.93],[.6141,-.88],[.6159,.1],[.6168,.51],[.6177,.06],[.6165,-1.13],[.6168,-1.24],[.6195,.4],[.6199,.44],[.6203,-1.46],[.6204,-.14],[.6204,-.23],[.621,1.68],[.6212,.26],[.6241,0],[.6241,-.19],[.6237,1.07],[.6262,1.03],[.6266,-.62],[.6268,-1.71],[.6275,.13],[.6282,.02],[.6284,-.87],[.6291,-.89],[.6293,-.12],[.6304,-.56],[.6318,.61],[.6327,-1.14],[.634,.09],[.6354,-.26],[.637,-.93],[.6378,.28],[.6387,1.41],[.639,.32],[.6392,.93],[.6396,-.07],[.641,.15],[.6416,-.46],[.6421,-1.13],[.6418,.09],[.6439,.12],[.6445,-.55],[.6448,-.25],[.645,.66],[.6455,-.42],[.6457,-.92],[.6463,.26],[.6475,-.23],[.6477,-1.31],[.6481,1.68],[.6481,0],[.649,1.13],[.6493,.5],[.652,.47],[.6537,.24],[.6557,.18],[.656,.11],[.6564,-.87],[.6612,-1.88],[.662,1.04],[.662,.11],[.6623,-.06],[.6621,1.38],[.6632,1.38],[.6641,1.38],[.6632,.51],[.6634,-.28],[.6656,-.93],[.6656,0],[.667,.16],[.6674,.19],[.6688,-.95],[.6697,.47],[.6697,-.09],[.6699,-1.12],[.6714,-1.08],[.6712,1.57],[.6717,-1.4],[.6728,-.22],[.6755,-.45],[.6757,0],[.6769,-.3],[.6777,.26],[.6779,1.73],[.6813,.25],[.6833,1.13],[.684,.58],[.6854,.57],[.6854,.46],[.684,.07],[.6864,.08],[.6883,-.81],[.6891,-.02],[.6905,1.54],[.6907,1.02],[.6912,-.41],[.6923,.23],[.6923,.16],[.6927,-.84],[.6936,1.48],[.6936,-1.32],[.6954,-.82],[.6954,.25],[.6954,-.32],[.6963,-1.16],[.6963,-1.13],[.6966,.21],[.6981,.18],[.6977,.51],[.6986,-1.32],[.6992,.03],[.6995,1.76],[.6999,-.91],[.7001,-.97],[.7035,.07],[.7064,-.75],[.7068,.61],[.7071,.15],[.708,.4],[.7089,-.74],[.7064,-.2],[.7068,-.24],[.7066,-.1],[.7075,-.08],[.7087,0],[.7102,.22],[.7102,-.24],[.7106,-.28],[.7115,.4],[.7111,.95],[.7107,-.62],[.7134,1.1],[.7125,.18],[.7115,-.35],[.7134,-.41],[.7153,-.03],[.7161,-.46],[.7153,-.91],[.7148,-1.09],[.7158,-.99],[.7176,1.27],[.7171,-.28],[.7185,-.3],[.7185,-.2],[.7194,1.69],[.7201,1.46],[.7208,1.44],[.7198,-1.01],[.7212,.09],[.7212,-.09],[.7219,-.18],[.7232,.91],[.7237,.41],[.7241,-.89],[.7243,.7],[.7234,.03],[.7259,.03],[.7274,1.53],[.7283,.36],[.7288,.31],[.7283,.21],[.7277,-.31],[.7268,-.46],[.7275,-.57],[.7292,1.07],[.7315,.04],[.732,.02],[.7366,1.38],[.7373,1.32]];
const red9=[[.5404,-1.88],[.5422,-1.47],[.55,-1.4],[.5518,-1.24],[.5563,-1.17],[.5599,-1.11],[.5644,-.99],[.5684,-.89],[.5735,-.86],[.5825,-.79],[.5861,-.58],[.5915,-.48],[.5942,-.42],[.6015,-.38],[.6051,-.3],[.6096,-.25],[.6168,-.23],[.6204,-.14],[.6259,-.1],[.6331,-.08],[.6385,0],[.6475,.04],[.6566,.08],[.6674,.13],[.6746,.15],[.6836,.19],[.6882,.23],[.6927,.28],[.6972,.46],[.7008,.51],[.7062,.51],[.7098,.66],[.7104,.91],[.7153,.97],[.7189,1.09],[.7207,1.32],[.7243,1.4],[.727,1.5],[.7288,1.68],[.7324,1.74],[.7375,1.79]];
const dash9=[[.595,-.1],[.7375,.17]];
const solid9=[[.5404,-.18],[.595,-.1]];

const allPts=[pts1,pts2,pts3,pts4,pts5,pts6,pts7,pts8,pts9];
const allRed=[red1,red2,red3,red4,red5,red6,red7,red8,red9];
const allDash=[dash1,dash2,dash3,dash4,dash5,dash6,dash7,dash8,dash9];
const allSolid=[solid1,solid2,solid3,solid4,solid5,solid6,solid7,solid8,solid9];
const xTickSets=[xTicksR1,xTicksR2,xTicksR3];
const xDecimals=[2,2,3];
const yTickSets=[yTicksInt,yTicksInt,yTicksInt,yTicksInt,yTicksInt,yTicksHalf,yTicksInt3,yTicksInt,yTicksHalf];
const yDecimals=[0,0,0,0,0,1,0,0,1];

const FONT='"Open Sans"';
const GRID_C='#9e9e9e', FRAME_C='#5f5f5f', TEXT_C='#1a1a1a';
const lefts=[52,532,1012], tops=[24,342,660], W=400, H=265;

const grid=[],xAxis=[],yAxis=[],series=[],graphic=[];
for(let i=0;i<9;i++){
  const c=i%3,r=Math.floor(i/3);
  grid.push({left:lefts[c],top:tops[r],width:W,height:H,show:true,borderColor:FRAME_C,borderWidth:1,backgroundColor:'#fff',containLabel:false});
  const xd=xDecimals[r],yd=yDecimals[i];
  const line={show:true,onZero:false,lineStyle:{color:FRAME_C,width:1}};
  const mk=(vals,fmt)=>({
    axisLine:line,
    axisTick:{show:true,length:3,customValues:vals,lineStyle:{color:FRAME_C}},
    axisLabel:{customValues:vals,color:TEXT_C,fontFamily:FONT,fontSize:13,margin:5,formatter:fmt,hideOverlap:false,showMinLabel:true,showMaxLabel:true},
    splitLine:{show:true,showMinLine:true,showMaxLine:true,lineStyle:{color:GRID_C,width:1}}
  });
  xAxis.push(Object.assign(mk(xTickSets[r],v=>(+v).toFixed(xd)),{
    type:'value',gridIndex:i,min:xExtents[r][0],max:xExtents[r][1],
    name:r===2?'NDVI':'',nameLocation:'middle',nameGap:22,nameTextStyle:{fontFamily:FONT,fontSize:16,color:TEXT_C}}));
  yAxis.push(Object.assign(mk(yTickSets[i],v=>(+v).toFixed(yd).replace('-','\u2212')),{
    type:'value',gridIndex:i,min:yExtents[i][0],max:yExtents[i][1],
    name:yNames[i],nameLocation:'middle',nameRotate:90,nameGap:24,nameTextStyle:{fontFamily:FONT,fontSize:16,color:TEXT_C}}));
  series.push({type:'scatter',xAxisIndex:i,yAxisIndex:i,data:allPts[i],symbolSize:6.5,silent:true,itemStyle:{color:'#1f77b4',opacity:1},z:3,animation:false});
  if(allSolid[i].length)series.push({type:'line',xAxisIndex:i,yAxisIndex:i,data:allSolid[i],symbol:'none',silent:true,lineStyle:{color:'#000',width:1.6},z:4,animation:false});
  series.push({type:'line',xAxisIndex:i,yAxisIndex:i,data:allDash[i],symbol:'none',silent:true,lineStyle:{color:'#000',width:1.6,type:[7,2]},z:4,animation:false});
  series.push({type:'line',xAxisIndex:i,yAxisIndex:i,data:allRed[i],symbol:'none',silent:true,lineStyle:{color:'#ff0000',width:1},z:5,animation:false});
  const tx=(text,x,y,fill,size,align)=>({type:'text',z:100,silent:true,style:{text,x,y,fill,font:size+'px '+FONT,textAlign:align||'left',textVerticalAlign:'middle'}});
  graphic.push(tx(titles[i],lefts[c]+W/2,tops[r]-9,TEXT_C,15.5,'center'));
  if(i===8)graphic.push(tx('ps = 0.14',lefts[c]+41,tops[r]+23,'#333',10));
  graphic.push(tx(redNotes[i],lefts[c]+40,tops[r]+22,'#ff0000',14.5));
  graphic.push(tx(blackNotes[i],lefts[c]+280,tops[r]+22,'#000',14.5));
}
const chart=echarts.init(document.getElementById('c'),null,{renderer:'canvas',width:1417,height:965});
chart.setOption({animation:false,backgroundColor:'#fff',grid,xAxis,yAxis,series,graphic});
</script></body></html>
